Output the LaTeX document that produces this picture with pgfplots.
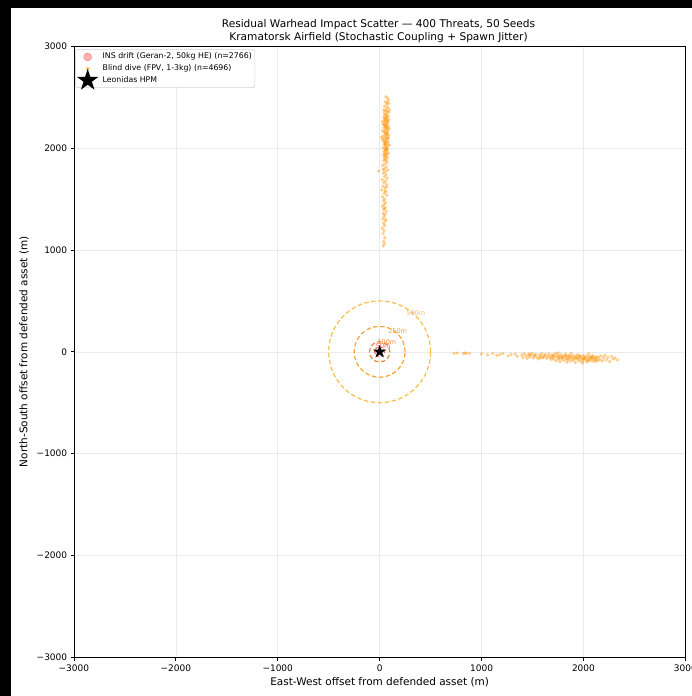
\documentclass[border=0pt]{standalone}
\usepackage{pgfplots}
\pgfplotsset{compat=1.18}
\usepackage{fontspec}
\setmainfont{DejaVu Sans}
\definecolor{ptorange}{RGB}{255,145,0}
\definecolor{ringA}{RGB}{250,190,75}
\definecolor{ringB}{RGB}{245,165,50}
\definecolor{ringC}{RGB}{240,135,50}
\definecolor{ringD}{RGB}{235,100,90}
\definecolor{gridc}{RGB}{234,234,234}
\definecolor{legframe}{RGB}{210,210,210}
\pgfdeclareplotmark{fstar}{%
  \pgfpathmoveto{\pgfpointpolar{90}{\pgfplotmarksize}}%
  \pgfpathlineto{\pgfpointpolar{126}{0.382*\pgfplotmarksize}}%
  \pgfpathlineto{\pgfpointpolar{162}{\pgfplotmarksize}}%
  \pgfpathlineto{\pgfpointpolar{198}{0.382*\pgfplotmarksize}}%
  \pgfpathlineto{\pgfpointpolar{234}{\pgfplotmarksize}}%
  \pgfpathlineto{\pgfpointpolar{270}{0.382*\pgfplotmarksize}}%
  \pgfpathlineto{\pgfpointpolar{306}{\pgfplotmarksize}}%
  \pgfpathlineto{\pgfpointpolar{342}{0.382*\pgfplotmarksize}}%
  \pgfpathlineto{\pgfpointpolar{18}{\pgfplotmarksize}}%
  \pgfpathlineto{\pgfpointpolar{54}{0.382*\pgfplotmarksize}}%
  \pgfpathclose\pgfusepathqfill}
\begin{document}
\begin{tikzpicture}[x=1pt,y=1pt]
\useasboundingbox (0,0) rectangle (692,696);
\fill[black] (0,0) rectangle (11,696);
\fill[black] (0,688) rectangle (692,696);
\node[align=center, font=\fontsize{10.6}{13}\selectfont] at (378.5,664.5) {Residual Warhead Impact Scatter — 400 Threats, 50 Seeds\\Kramatorsk Airfield (Stochastic Coupling + Spawn Jitter)};
\begin{axis}[
  at={(72.5,38)}, anchor=south west, scale only axis,
  width=611.5pt, height=611pt,
  xmin=-3000, xmax=3000, ymin=-3000, ymax=3000,
  xtick={-3000,-2000,-1000,0,1000,2000,3000},
  xticklabels={−3000,−2000,−1000,0,1000,2000,3000},
  ytick={-3000,-2000,-1000,0,1000,2000,3000},
  yticklabels={−3000,−2000,−1000,0,1000,2000,3000},
  grid=major, major grid style={line width=0.6pt, color=gridc},
  tick pos=left, tick align=outside, major tick length=3.2pt,
  tick style={black, line width=0.7pt},
  axis line style={line width=0.75pt},
  ticklabel style={font=\fontsize{9}{10}\selectfont},
  xticklabel style={yshift=-0.5pt},
  label style={font=\fontsize{10.5}{12}\selectfont},
  xlabel style={yshift=1pt},
  ylabel style={yshift=1pt},
  xlabel={East-West offset from defended asset (m)},
  ylabel={North-South offset from defended asset (m)},
  legend cell align=left,
  legend style={at={(axis description cs:0.00245,0.9951)}, anchor=north west,
    draw=legframe, rounded corners=2pt, fill=white, line width=0.6pt,
    font=\fontsize{7.8}{9}\selectfont, inner sep=1.5pt,
    nodes={inner sep=1.5pt, text height=6.4pt, text depth=2.3pt}},
]
\addplot[only marks, mark=*, mark size=1.5pt,
  mark options={draw opacity=0, fill=red, fill opacity=0.3},
  legend image code/.code={\path[fill=none,draw=none] (0,-4.5pt) rectangle (24pt,4.5pt);
    \fill[red, opacity=0.3] (10.5pt,0) circle (4pt);}]
  coordinates {(5,3) (-8,10) (12,-6) (-3,-12) (8,8) (-10,-4) (2,14) (15,2)};
\addlegendentry{INS drift (Geran-2, 50kg HE) (n=2766)}
\addplot[only marks, mark=*, mark size=1.8pt,
  mark options={draw opacity=0, fill=ptorange, fill opacity=0.45},
  legend image code/.code={\path[fill=none,draw=none] (0,-4.5pt) rectangle (24pt,4.5pt);
    \fill[ptorange, opacity=0.45] (10.5pt,0) circle (1.8pt);}]
  coordinates {
(62,2505) (78,2490) (85,2470) (55,2455) (90,2440) (70,2425) (48,2410) (82,2400) (66,2385) (95,2375) (58,2365) (74,2358) (40,2372) (88,2352) (69,2445)
(45,2340) (60,2332) (75,2325) (52,2318) (83,2310) (38,2300) (67,2295) (58,2288) (90,2280) (44,2272) (72,2266) (55,2258) (80,2250) (63,2243) (35,2236) (70,2230) (50,2222) (86,2215) (60,2208) (42,2200) (76,2192) (56,2185) (68,2178) (30,2170) (82,2162) (48,2155) (64,2148) (74,2140) (53,2132) (88,2125) (40,2118) (66,2110) (58,2102) (78,2095) (46,2088) (70,2080) (36,2072) (62,2065) (84,2058) (52,2050) (72,2042) (44,2035) (60,2028) (80,2020) (55,2012) (33,2005) (68,1998) (50,1990) (76,1982) (58,1975) (42,1968) (65,1960) (85,1952) (48,1945) (70,1938) (38,1930) (62,1922) (54,1915) (78,1908) (45,1900)
(28,2260) (92,2190) (25,2090) (95,2030) (20,2110) (64,2302) (57,2218) (71,2136) (49,2064) (61,1986)
(60,1890) (40,1875) (72,1860) (52,1845) (30,1830) (66,1815) (46,1800) (80,1785) (-12,1775) (56,1770) (36,1755) (64,1740) (48,1722) (74,1705) (26,1690) (58,1675) (42,1660) (68,1642) (34,1625) (54,1608) (20,1590) (62,1572) (44,1555) (70,1538) (30,1520) (50,1500) (38,1482) (60,1465) (46,1448) (28,1430) (56,1412) (40,1395) (66,1378) (34,1360) (52,1350)
(44,1330) (30,1305) (56,1285) (38,1262) (48,1240) (26,1215) (42,1190) (36,1160) (50,1120) (40,1085) (46,1060) (35,1040)
(730,-15) (760,-12) (820,-18) (835,-10) (850,-16) (880,-14)
(1000,-20) (1060,-30) (1110,-15) (1150,-35) (1180,-25) (1210,-18) (1260,-40) (1290,-28) (1330,-22) (1350,-45)
(1395,-30) (1405,-55) (1420,-20) (1435,-42) (1448,-65) (1460,-28) (1472,-50) (1485,-35) (1495,-15) (1508,-60) (1520,-40) (1532,-25) (1545,-52) (1556,-70) (1568,-32) (1580,-45) (1590,-18) (1602,-58) (1615,-38) (1626,-28) (1638,-66) (1650,-48) (1660,-22) (1672,-55) (1685,-36)
(1695,-60) (1702,-30) (1710,-75) (1718,-45) (1725,-20) (1733,-88) (1740,-52) (1748,-35) (1755,-68) (1762,-42) (1770,-95) (1778,-28) (1785,-58) (1792,-72) (1800,-40) (1808,-85) (1815,-50) (1822,-25) (1830,-65) (1838,-100) (1845,-45) (1852,-78) (1860,-32) (1868,-60) (1875,-90) (1882,-48) (1890,-70) (1898,-38) (1905,-82) (1912,-55) (1920,-105) (1928,-42) (1935,-68) (1942,-30) (1950,-88) (1958,-58) (1965,-75) (1972,-45) (1980,-95) (1988,-62) (1995,-35) (2002,-80) (2010,-52) (2018,-70) (2025,-40) (2032,-98) (2040,-60) (2048,-78) (2055,-45) (2062,-88) (2070,-55) (2078,-70) (2085,-38) (2092,-92) (2100,-62) (2108,-80) (2115,-48) (2122,-72) (2130,-58) (2140,-85) (2148,-50)
(1750,-10) (1880,-15) (1990,-110) (2050,-20) (1765,-62) (1842,-70) (1918,-64) (1996,-72) (2074,-66)
(2160,-75) (2172,-40) (2185,-90) (2198,-60) (2210,-35) (2225,-80) (2240,-55) (2258,-95) (2275,-45) (2290,-70) (2310,-60) (2335,-80)
(53,2280) (68,2205) (47,2160) (79,2270) (59,2040) (73,1995) (41,2235) (86,2100) (56,1940) (64,1880) (35,1790) (70,1620) (50,1580) (45,1410) (60,1300)
(1520,-35) (1610,-50) (1700,-45) (1790,-55) (1860,-50) (1940,-58) (2010,-62) (2090,-50) (1830,-35) (1960,-40) (2040,-85) (1680,-75) (1580,-62) (1470,-22) (2120,-95)
};
\addlegendentry{Blind dive (FPV, 1-3kg) (n=4696)}
\draw[ringA, line width=1.2pt, dash pattern=on 4.5pt off 2.5pt] (axis cs:0,0) circle [radius=500];
\draw[ringB, line width=1.2pt, dash pattern=on 4.5pt off 2.5pt] (axis cs:0,0) circle [radius=250];
\draw[ringC, line width=1.2pt, dash pattern=on 4.5pt off 2.5pt] (axis cs:0,0) circle [radius=100];
\draw[ringD, line width=1.0pt, dash pattern=on 3pt off 2pt] (axis cs:0,0) circle [radius=50];
\node[anchor=base, text=ringA, font=\fontsize{6.5}{7.5}\selectfont] at (axis cs:354,354) {500m};
\node[anchor=base, text=ringB, font=\fontsize{6.5}{7.5}\selectfont] at (axis cs:177,177) {250m};
\node[anchor=base, text=ringC, font=\fontsize{6.5}{7.5}\selectfont] at (axis cs:71,71) {100m};
\node[anchor=base, text=ringD, font=\fontsize{6.5}{7.5}\selectfont] at (axis cs:35,35) {50m};
\addplot[only marks, mark=fstar, mark size=7pt, black,
  legend image code/.code={\path[fill=none,draw=none] (0,-4.5pt) rectangle (24pt,4.5pt);
    \begin{scope}[overlay, shift={(10.5pt,0)}]\fill[black] plot[mark=fstar, mark size=11.5pt] coordinates {(0,0)};\end{scope}}]
  coordinates {(0,0)};
\addlegendentry{Leonidas HPM}
\end{axis}
\end{tikzpicture}
\end{document}
